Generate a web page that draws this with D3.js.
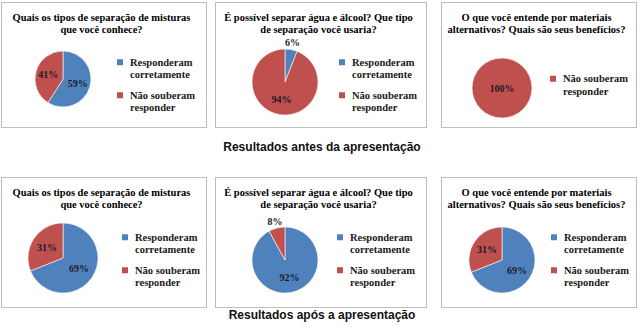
<!DOCTYPE html>
<html>
<head>
<meta charset="utf-8">
<script src="https://cdn.jsdelivr.net/npm/d3@7"></script>
<style>
  html, body { margin: 0; padding: 0; background: #fff; }
  svg { display: block; }
  .serif { font-family: "Liberation Serif", "DejaVu Serif", "Times New Roman", serif; font-weight: bold; }
  .sans { font-family: "Liberation Sans", Arial, sans-serif; font-weight: bold; }
</style>
</head>
<body>
<svg id="chart" width="640" height="329"></svg>
<script>
// ---- data ----
const sectionTitles = ["Resultados antes da apresentação", "Resultados após a apresentação"];
const questionTitles = [
  ["Quais os tipos de separação de misturas", "que você conhece?"],
  ["É possível separar água e álcool? Que tipo", "de separação você usaria?"],
  ["O que você entende por materiais", "alternativos? Quais são seus benefícios?"]
];
const seriesNames = [["Responderam", "corretamente"], ["Não souberam", "responder"]];
const correctBefore = [59, 6, 0];
const wrongBefore = [41, 94, 100];
const correctAfter = [69, 92, 69];
const wrongAfter = [31, 8, 31];

// ---- layout ----
const W = 640, H = 329;
const colX = [[1, 206], [215, 426], [441, 636]];
const rowY = [[2, 127], [177, 307]];
const pieDX = [62, 70, 61];
const pieDY = [[77, 80, 86], [81, 83, 83]];
const pieR = [[28, 33, 30], [35, 33, 33]];
const legendDX = [[116, 124, 109], [121, 122, 110]];
const colors = ["#4F81BD", "#C0504D"];

const svg = d3.select("#chart");
svg.append("rect").attr("width", W).attr("height", H).attr("fill", "#fff");

const rowsData = [
  [correctBefore, wrongBefore],
  [correctAfter, wrongAfter]
];

const pie = d3.pie().sort(null).value(d => d.value);
const color = d3.scaleOrdinal().domain([0, 1]).range(colors);

rowsData.forEach((series, r) => {
  const [y0, y1] = rowY[r];
  questionTitles.forEach((qt, c) => {
    const [x0, x1] = colX[c];
    const g = svg.append("g");
    g.append("rect")
      .attr("x", x0 + 0.5).attr("y", y0 + 0.5)
      .attr("width", x1 - x0).attr("height", y1 - y0)
      .attr("fill", "#fff").attr("stroke", "#bdbdbd").attr("stroke-width", 1);

    const cx = (x0 + x1) / 2 - 2;
    qt.forEach((line, i) => {
      g.append("text").attr("class", "serif")
        .attr("x", cx).attr("y", y0 + 18.5 + i * 12.5)
        .attr("text-anchor", "middle")
        .attr("font-size", 10.5).attr("fill", "#000")
        .text(line);
    });

    const data = series.map((s, k) => ({ key: k, value: s[c] })).filter(d => d.value > 0);
    const total = d3.sum(data, d => d.value);
    const R = pieR[r][c];
    const pcx = x0 + pieDX[c], pcy = y0 + pieDY[r][c];
    const arcs = pie(data);
    const arc = d3.arc().innerRadius(0).outerRadius(R);
    const pg = g.append("g").attr("transform", `translate(${pcx},${pcy})`);
    pg.selectAll("path").data(arcs).join("path")
      .attr("d", arc)
      .attr("fill", d => color(d.data.key))
      .attr("stroke", "#fff").attr("stroke-width", 0.6);

    pg.selectAll("text").data(arcs).join("text").attr("class", "serif")
      .each(function(d) {
        const share = d.data.value / total;
        let x = 0, y = 0;
        if (share < 1) {
          const a = (d.startAngle + d.endAngle) / 2;
          const f = share < 0.1 ? 1.22 : 0.55;
          x = Math.sin(a) * R * f;
          y = -Math.cos(a) * R * f;
        }
        d3.select(this).attr("x", x).attr("y", y + 3.5);
      })
      .attr("text-anchor", "middle")
      .attr("font-size", 10).attr("fill", "#1b1b2b")
      .text(d => d.data.value + "%");

    // legend
    const lx = x0 + legendDX[r][c];
    const n = data.length;
    const blockH = (n - 1) * 33 + 12.5;
    const ly = y0 + 83 - blockH / 2;
    data.forEach((d, i) => {
      const yy = ly + i * 33;
      g.append("rect")
        .attr("x", lx).attr("y", yy - 3)
        .attr("width", 6).attr("height", 6)
        .attr("fill", color(d.key));
      seriesNames[d.key].forEach((t, j) => {
        g.append("text").attr("class", "serif")
          .attr("x", lx + 13).attr("y", yy + 3.5 + j * 12.5)
          .attr("font-size", 10.5).attr("fill", "#1a1a1a")
          .text(t);
      });
    });
  });
});

// section titles
const secY = [151, 319];
sectionTitles.forEach((t, i) => {
  svg.append("text").attr("class", "sans")
    .attr("x", 322).attr("y", secY[i])
    .attr("text-anchor", "middle")
    .attr("font-size", 12).attr("fill", "#111")
    .text(t);
});
</script>
</body>
</html>
